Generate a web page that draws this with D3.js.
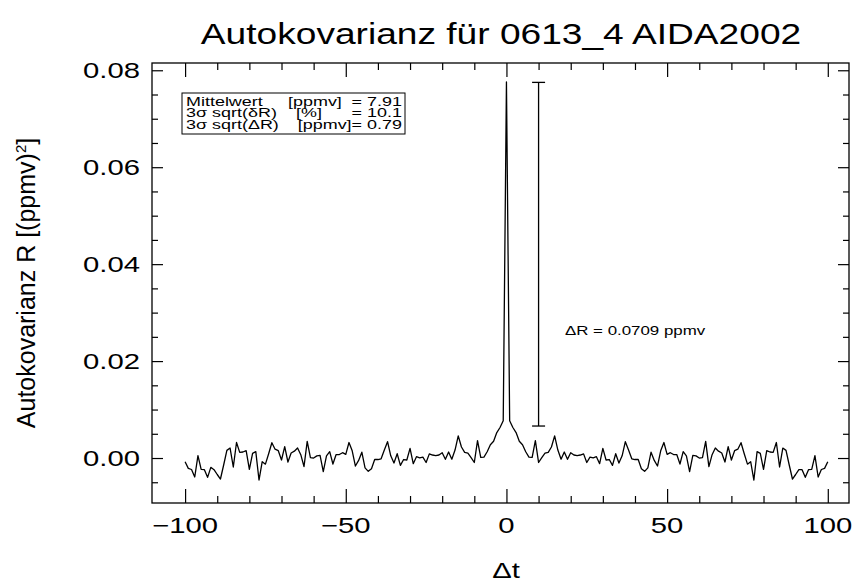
<!DOCTYPE html>
<html lang="de">
<head>
<meta charset="UTF-8">
<title>Autokovarianz für 0613_4 AIDA2002</title>
<script src="https://d3js.org/d3.v7.min.js"></script>
<style>
body { margin: 0; background: #fff; }
text { font-family: "Liberation Sans", Arial, sans-serif; fill: #000; }
.tick line { stroke: #000; stroke-width: 1.2; }
</style>
</head>
<body>
<svg width="857" height="582"></svg>
<script>
// lag axis (Δt) and autocovariance values in units of 1e-3 (ppmv)^2
const lags = d3.range(-100, 101);
const rMilli = [
  -0.76, -2.13, -2.37, -3.92, 0.50, -2.34, -2.40, -3.99, -1.92, -2.40,
  -3.40, -4.33, -1.44, 1.58, 2.06, -1.85, 3.20, 1.17, 1.24, 1.51,
  -2.34, 0.96, 1.31, -4.54, -0.76, -1.27, 0.89, 3.16, 1.82, 1.51,
  -0.41, 2.34, -0.82, 1.03, 1.41, 2.06, 0.69, -1.79, 3.44, 0.10,
  0.00, 0.45, 0.55, -2.82, 0.45, 1.31, -1.24, 0.72, 0.72, 1.10,
  0.75, 3.20, 1.48, -1.65, -0.50, 1.20, -2.03, -2.75, -2.20, -0.31,
  -0.31, -0.17, 1.65, 3.37, 0.45, -1.03, 0.89, -1.51, -0.31, -0.41,
  1.99, -1.17, 0.27, 0.03, 0.20, -0.92, 0.86, 0.62, 0.51, 0.62,
  1.10, -0.27, 1.24, -0.24, 1.65, 4.57, 2.27, 1.17, 1.03, 0.10,
  -0.92, 3.57, 0.14, 0.20, 1.30, 2.75, 3.45, 5.25, 6.30, 7.70,
  77.60,
  7.70, 6.30, 5.25, 3.45, 2.75, 1.30, 0.20, 0.14, 3.57, -0.92,
  0.10, 1.03, 1.17, 2.27, 4.57, 1.65, -0.24, 1.24, -0.27, 1.10,
  0.62, 0.51, 0.62, 0.86, -0.92, 0.20, 0.03, 0.27, -1.17, 1.99,
  -0.41, -0.31, -1.51, 0.89, -1.03, 0.45, 3.37, 1.65, -0.17, -0.31,
  -0.31, -2.20, -2.75, -2.03, 1.20, -0.50, -1.65, 1.48, 3.20, 0.75,
  1.10, 0.72, 0.72, -1.24, 1.31, 0.45, -2.82, 0.55, 0.45, 0.00,
  0.10, 3.44, -1.79, 0.69, 2.06, 1.41, 1.03, -0.82, 2.34, -0.41,
  1.51, 1.82, 3.16, 0.89, -1.27, -0.76, -4.54, 1.31, 0.96, -2.34,
  1.51, 1.24, 1.17, 3.20, -1.85, 2.06, 1.58, -1.44, -4.33, -3.40,
  -2.40, -2.40, -3.99, -2.40, -2.34, 0.50, -3.92, -2.37, -2.13, -0.76
];

const xMajor = [-100, -50, 0, 50, 100];
const xLabels = ['\u2212100', '\u221250', '0', '50', '100'];
const xMinor = [-90, -80, -70, -60, -40, -30, -20, -10, 10, 20, 30, 40, 60, 70, 80, 90];
const yMajor = [0, 0.02, 0.04, 0.06, 0.08];
const yLabels = ['0.00', '0.02', '0.04', '0.06', '0.08'];
const yMinor = [-0.005, 0.005, 0.01, 0.015, 0.025, 0.03, 0.035, 0.045, 0.05, 0.055, 0.065, 0.07, 0.075];

// error bar for ΔR drawn at lag 10
const barLag = 10;
const barRange = [0.0066, 0.0775];

const legendLines = [
  ['Mittelwert', '[ppmv]', '= 7.91'],
  ['3\u03c3 sqrt(\u03b4R)', '[%]', '= 10.1'],
  ['3\u03c3 sqrt(\u0394R)', '', '[ppmv]= 0.79']
];

const svg = d3.select('svg');
const box = { left: 152, right: 849, top: 63, bottom: 503 };
const sx = 1.33; // glyphs in the original are drawn wide

const x = d3.scaleLinear().domain([-110.3, 106.6]).range([box.left, box.right]);
const y = d3.scaleLinear().domain([-0.00928, 0.0815]).range([box.bottom, box.top]);

const label = (g, px, py, txt, size, anchor, stretch = sx) => g.append('text')
  .attr('transform', `translate(${px},${py}) scale(${stretch},1)`)
  .attr('text-anchor', anchor)
  .style('font-size', size + 'px')
  .text(txt);

// ticks on all four sides, pointing inward
const tickSets = [
  [d3.axisBottom, `translate(0,${box.bottom})`, x, xMajor, 14],
  [d3.axisBottom, `translate(0,${box.bottom})`, x, xMinor, 7],
  [d3.axisTop, `translate(0,${box.top})`, x, xMajor, 14],
  [d3.axisTop, `translate(0,${box.top})`, x, xMinor, 7],
  [d3.axisLeft, `translate(${box.left},0)`, y, yMajor, 11],
  [d3.axisLeft, `translate(${box.left},0)`, y, yMinor, 6],
  [d3.axisRight, `translate(${box.right},0)`, y, yMajor, 11],
  [d3.axisRight, `translate(${box.right},0)`, y, yMinor, 6]
];
tickSets.forEach(([axisFn, tr, scale, vals, len]) => {
  svg.append('g')
    .attr('transform', tr)
    .call(axisFn(scale).tickValues(vals).tickSize(-len).tickFormat(''))
    .call(g => g.select('.domain').remove());
});

svg.append('rect')
  .attr('x', box.left).attr('y', box.top)
  .attr('width', box.right - box.left).attr('height', box.bottom - box.top)
  .attr('fill', 'none').attr('stroke', '#000').attr('stroke-width', 1.3);

// tick labels
const labels = svg.append('g');
xMajor.forEach((v, i) => label(labels, x(v), 533, xLabels[i], 22, 'middle'));
yMajor.forEach((v, i) => label(labels, 140, y(v) + 8, yLabels[i], 22, 'end'));

// titles
label(svg, 501, 44, 'Autokovarianz für 0613_4 AIDA2002', 29, 'middle', 1.28);
label(svg, 506, 578, '\u0394t', 22, 'middle');
const yt = svg.append('text')
  .attr('transform', 'translate(35,283) rotate(-90)')
  .attr('text-anchor', 'middle')
  .style('font-size', '25px');
yt.append('tspan').text('Autokovarianz R [(ppmv)');
yt.append('tspan').attr('dy', -9).style('font-size', '15px').text('2');
yt.append('tspan').attr('dy', 9).text(']');

// data line
const line = d3.line()
  .x((d, i) => x(lags[i]))
  .y(d => y(d / 1000));

svg.append('path')
  .datum(rMilli)
  .attr('d', line)
  .attr('fill', 'none')
  .attr('stroke', '#000')
  .attr('stroke-width', 1.3)
  .attr('stroke-linejoin', 'round');

// ΔR error bar
const bar = svg.append('g').attr('stroke', '#000').attr('stroke-width', 1.3);
bar.append('line')
  .attr('x1', x(barLag)).attr('x2', x(barLag))
  .attr('y1', y(barRange[0])).attr('y2', y(barRange[1]));
barRange.forEach(v => bar.append('line')
  .attr('x1', x(barLag) - 6.5).attr('x2', x(barLag) + 6.5)
  .attr('y1', y(v)).attr('y2', y(v)));
label(svg, 565, 335, '\u0394R = 0.0709 ppmv', 13.5, 'start', 1.25);

// legend box
svg.append('rect')
  .attr('x', 182).attr('y', 93).attr('width', 223).attr('height', 41)
  .attr('fill', '#fff').attr('stroke', '#000').attr('stroke-width', 1);
const leg = svg.append('g');
const unitX = [288, 296, 0];
legendLines.forEach((row, i) => {
  const by = 105.5 + i * 11.5;
  label(leg, 186, by, row[0], 13.5, 'start');
  if (row[1]) label(leg, unitX[i], by, row[1], 13.5, 'start');
  label(leg, 402, by, row[2], 13.5, 'end');
});
</script>
</body>
</html>
